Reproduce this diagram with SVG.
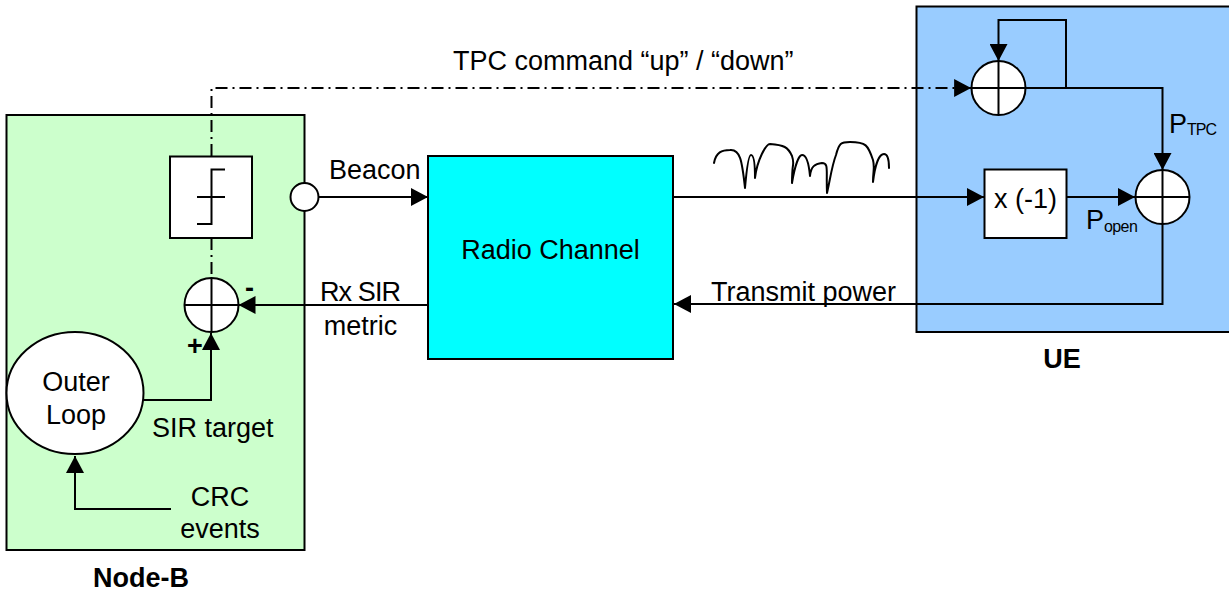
<svg xmlns="http://www.w3.org/2000/svg" width="1229" height="592" viewBox="0 0 1229 592">
<style>
text{font-family:"Liberation Sans",Arial,sans-serif;font-size:27px;fill:#000}
.b{font-weight:bold}
.s{stroke:#000;stroke-width:2;fill:none}
.sh{stroke:#000;stroke-width:2;fill:#fff}
.c{stroke:#000;stroke-width:2;fill:none}
.d{stroke:#000;stroke-width:2;fill:none;stroke-dasharray:12 5 2 5}
</style>
<defs>
<marker id="a" markerUnits="userSpaceOnUse" markerWidth="18" markerHeight="18" refX="17" refY="9" orient="auto"><path d="M0 0L17 9L0 18Z" fill="#000"/></marker>
<g id="sum"><circle r="27" fill="#fff" stroke="#000" stroke-width="2"/><path d="M-27 0H27M0 -27V27" stroke="#000" stroke-width="2" fill="none"/></g>
</defs>
<g id="ue"><rect x="916.500" y="6.500" width="320" height="325.500" fill="#99ccff" stroke="#000" stroke-width="2"/><text class="b" x="1062" y="368" text-anchor="middle">UE</text></g>
<g id="node-b"><rect x="6.500" y="115" width="298" height="435" fill="#ccffcc" stroke="#000" stroke-width="2"/><text class="b" x="141" y="587" text-anchor="middle">Node-B</text></g>
<g id="connectors">
<path class="d" d="M211.500 156V88H971" />
<path class="d" d="M211.500 238V278" />
<path class="c" marker-end="url(#a)" d="M971 88H971.100"/>
<path class="c" marker-end="url(#a)" d="M1025 88H1066V20H998.500V61"/>
<path class="c" marker-end="url(#a)" d="M1066 88H1162.500V170"/>
<path class="c" marker-end="url(#a)" d="M1067 197H1135"/>
<path class="c" marker-end="url(#a)" d="M673 197H984"/>
<path class="c" marker-end="url(#a)" d="M318 197H428"/>
<path class="c" marker-end="url(#a)" d="M1162.500 224V304H674"/>
<path class="c" marker-end="url(#a)" d="M428 305H238.500"/>
<path class="c" marker-end="url(#a)" d="M143 400H211V333"/>
<path class="c" marker-end="url(#a)" d="M171 509H75V456"/>
<path class="c" stroke-linejoin="round" stroke-linecap="round" d="M714 163C716 152 722 150 730 150C740 149 742 160 745 188C747 165 749 155 751 155C754 155 755 165 755 178C757 160 766 144 770 144C784 145 788 147 792 156C795 165 792 160 792 183C795 165 799 155 802 155C807 155 809 165 810 176C811 166 815 164 822 163C829 163 826 170 827 193C830 180 832 165 836 155C839 143 841 142 850 142C866 142 868 145 873 160C875 168 873 170 873 182C875 165 879 154 884 154C888 154 889 160 889 168"/>
</g>
<g id="fb"><use href="#sum" x="998.500" y="88"/></g>
<g id="sum2"><use href="#sum" x="1162.500" y="197"/></g>
<g id="neg"><rect x="984.500" y="169.500" width="82" height="68.500" class="sh"/><text x="1025.500" y="208" text-anchor="middle">x (-1)</text></g>
<g id="radio"><rect x="428" y="156" width="245" height="203" fill="#00ffff" stroke="#000" stroke-width="2"/><text x="550.500" y="259" text-anchor="middle">Radio Channel</text></g>
<g id="threshold"><rect x="170" y="156.500" width="82" height="81.500" class="sh"/><path class="s" d="M197 197H225M197 224H211.500V169.500H225"/></g>
<g id="sum3"><use href="#sum" x="211.500" y="305"/></g>
<g id="beacon"><circle cx="304.500" cy="197" r="14" class="sh"/></g>
<g id="outer"><ellipse cx="75" cy="393" rx="68.500" ry="61" class="sh"/><text x="76" y="391" text-anchor="middle">Outer</text><text x="76" y="424" text-anchor="middle">Loop</text></g>
<g id="labels">
<text x="453" y="70">TPC command “up” / “down”</text>
<text x="329" y="179">Beacon</text>
<text x="360.500" y="301" text-anchor="middle" textLength="81" lengthAdjust="spacing">Rx SIR</text>
<text x="360.500" y="335" text-anchor="middle">metric</text>
<text x="711" y="301">Transmit power</text>
<text x="152" y="437">SIR target</text>
<text x="220" y="506" text-anchor="middle">CRC</text>
<text x="220" y="538" text-anchor="middle">events</text>
<text class="b" x="245" y="297">-</text>
<text class="b" x="187" y="355">+</text>
<text x="1169" y="133">P<tspan font-size="16" dy="2" letter-spacing="-1">TPC</tspan></text>
<text x="1086" y="229">P<tspan font-size="16" dy="3" letter-spacing="-0.6">open</tspan></text>
</g>
</svg>
